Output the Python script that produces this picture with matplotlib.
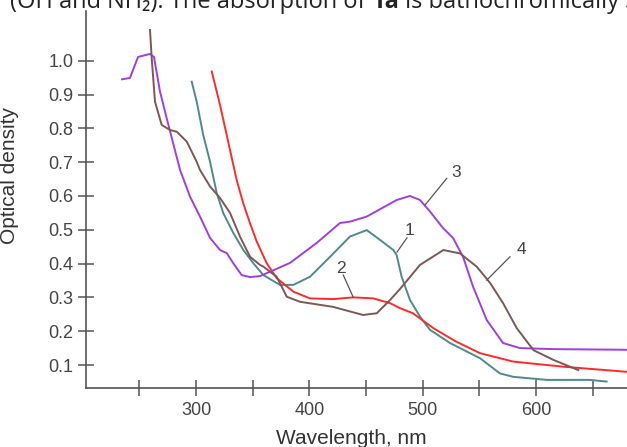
import matplotlib.pyplot as plt

plt.rcParams['font.family'] = ['Liberation Sans', 'DejaVu Sans']

# curve 1 (teal)
wl_1 = [296.2, 300.6, 306.4, 312.4, 318.3, 324.1, 333.0, 341.8, 350.6, 359.4, 374.1,
        385.9, 400.6, 418.3, 435.9, 450.7, 462.4, 474.2, 477.1, 481.5, 488.9, 497.7,
        506.5, 524.2, 550.7, 568.3, 580.1, 609.5, 647.7, 662.4]
od_1 = [0.938, 0.879, 0.780, 0.701, 0.608, 0.549, 0.490, 0.440, 0.401, 0.366, 0.337,
        0.337, 0.361, 0.420, 0.480, 0.499, 0.470, 0.440, 0.425, 0.361, 0.292, 0.243,
        0.204, 0.165, 0.120, 0.075, 0.065, 0.056, 0.056, 0.051]

# curve 2 (red)
wl_2 = [313.9, 321.2, 330.0, 335.9, 341.7, 347.7, 353.6, 362.4, 371.2, 385.9, 400.6,
        421.2, 438.8, 456.5, 471.2, 480.1, 491.5, 509.5, 528.6, 550.7, 580.1, 624.2, 680.0]
od_2 = [0.968, 0.869, 0.736, 0.647, 0.578, 0.519, 0.465, 0.401, 0.357, 0.317, 0.297,
        0.295, 0.300, 0.297, 0.283, 0.268, 0.253, 0.209, 0.171, 0.135, 0.110, 0.095, 0.080]

# curve 3 (purple)
wl_3 = [234.7, 241.7, 248.8, 259.4, 262.9, 268.2, 274.1, 285.9, 294.7, 303.5, 312.4,
        321.2, 327.1, 332.7, 340.3, 347.7, 356.5, 365.3, 383.0, 406.5, 427.1, 435.9,
        450.7, 477.1, 488.9, 497.7, 506.5, 518.0, 526.8, 535.7, 544.5, 556.6, 571.0,
        586.0, 615.1, 680.0]
od_3 = [0.945, 0.949, 1.011, 1.020, 1.011, 0.909, 0.830, 0.677, 0.598, 0.539, 0.476,
        0.440, 0.431, 0.402, 0.366, 0.360, 0.363, 0.376, 0.402, 0.461, 0.520, 0.524,
        0.539, 0.588, 0.600, 0.588, 0.554, 0.505, 0.476, 0.420, 0.332, 0.233, 0.165,
        0.150, 0.147, 0.145]

# curve 4 (brown)
wl_4 = [259.4, 260.9, 263.8, 269.7, 277.1, 283.0, 291.8, 300.6, 303.5, 312.4, 321.2,
        330.0, 338.8, 347.7, 356.5, 359.4, 371.2, 380.1, 391.8, 420.9, 447.4, 459.5,
        471.2, 480.1, 497.7, 518.3, 533.0, 547.7, 559.5, 571.0, 583.1, 597.8, 615.5, 637.4]
od_4 = [1.091, 1.007, 0.879, 0.810, 0.795, 0.790, 0.761, 0.701, 0.677, 0.628, 0.594,
        0.550, 0.480, 0.420, 0.396, 0.391, 0.361, 0.302, 0.287, 0.272, 0.248, 0.253,
        0.292, 0.325, 0.396, 0.440, 0.430, 0.391, 0.343, 0.283, 0.209, 0.144, 0.115, 0.085]

# curve labels: text, text position, leader line start (on curve) and end
labels = ['1', '2', '3', '4']
label_pos = [(488.5, 0.497), (427.5, 0.385), (529.5, 0.668), (587.0, 0.442)]
leader_from = [(477.4, 0.434), (438.8, 0.300), (502.1, 0.573), (556.6, 0.351)]
leader_to = [(486.2, 0.476), (430.0, 0.366), (521.3, 0.652), (577.1, 0.420)]

x_major = [300, 400, 500, 600]
x_minor = [250, 350, 450, 550, 650]
y_ticks = [0.1, 0.2, 0.3, 0.4, 0.5, 0.6, 0.7, 0.8, 0.9, 1.0]

fig = plt.figure(figsize=(6.27, 4.47), dpi=100)
ax = fig.add_axes([86 / 627, 59 / 447, 541 / 627, 377 / 447])

ax.plot(wl_1, od_1, color='#4d8b88', lw=1.4)
ax.plot(wl_2, od_2, color='#ff2b2b', lw=1.4)
ax.plot(wl_3, od_3, color='#a03ee0', lw=1.4)
ax.plot(wl_4, od_4, color='#7d5757', lw=1.4)

for lab, pos, p0, p1 in zip(labels, label_pos, leader_from, leader_to):
    ax.plot([p0[0], p1[0]], [p0[1], p1[1]], color='#555555', lw=0.9)
    ax.text(pos[0], pos[1], lab, ha='center', va='center', fontsize=12.5, color='#444444')

ax.set_xlim(202.9, 680.4)
ax.set_ylim(0.032, 1.147)
ax.set_xticks(x_major)
ax.set_xticks(x_minor, minor=True)
ax.set_yticks(y_ticks)
ax.set_yticklabels([f'{v:.1f}' for v in y_ticks])

for s in ['top', 'right']:
    ax.spines[s].set_visible(False)
for s in ['left', 'bottom']:
    ax.spines[s].set_color('#555555')
    ax.spines[s].set_linewidth(1.2)

ax.tick_params(which='both', direction='inout', length=12, width=1.1, color='#555555',
               labelsize=13, labelcolor='#444444')
ax.tick_params(axis='y', pad=3)
ax.tick_params(axis='x', pad=4)

ax.set_xlabel('Wavelength, nm', fontsize=15, color='#333333')
ax.set_ylabel('Optical density', fontsize=15, color='#333333')
ax.xaxis.set_label_coords((351 - 86) / 541, -(444 - 388) / 377)
ax.xaxis.label.set_va('baseline')
ax.yaxis.set_label_coords((19 - 86) / 541, (388 - 175) / 377)

# clipped text line from the page above the figure
base_y = 1 - 8 / 447
fam = ['Open Sans', 'DejaVu Sans']
t1 = fig.text(10 / 627, base_y, '(OH and NH\u2082). The absorption of ', fontsize=17,
              family=fam, color='#222222', va='baseline')
fig.canvas.draw()
r = fig.canvas.get_renderer()
x1 = t1.get_window_extent(r).x1 / fig.bbox.width
t2 = fig.text(x1, base_y, '1a', fontsize=17, family=fam, weight='bold',
              color='#222222', va='baseline')
x2 = t2.get_window_extent(r).x1 / fig.bbox.width
fig.text(x2, base_y, ' is bathochromically shifted', fontsize=17, family=fam,
         color='#222222', va='baseline')

fig.savefig('out.png', dpi=100)
